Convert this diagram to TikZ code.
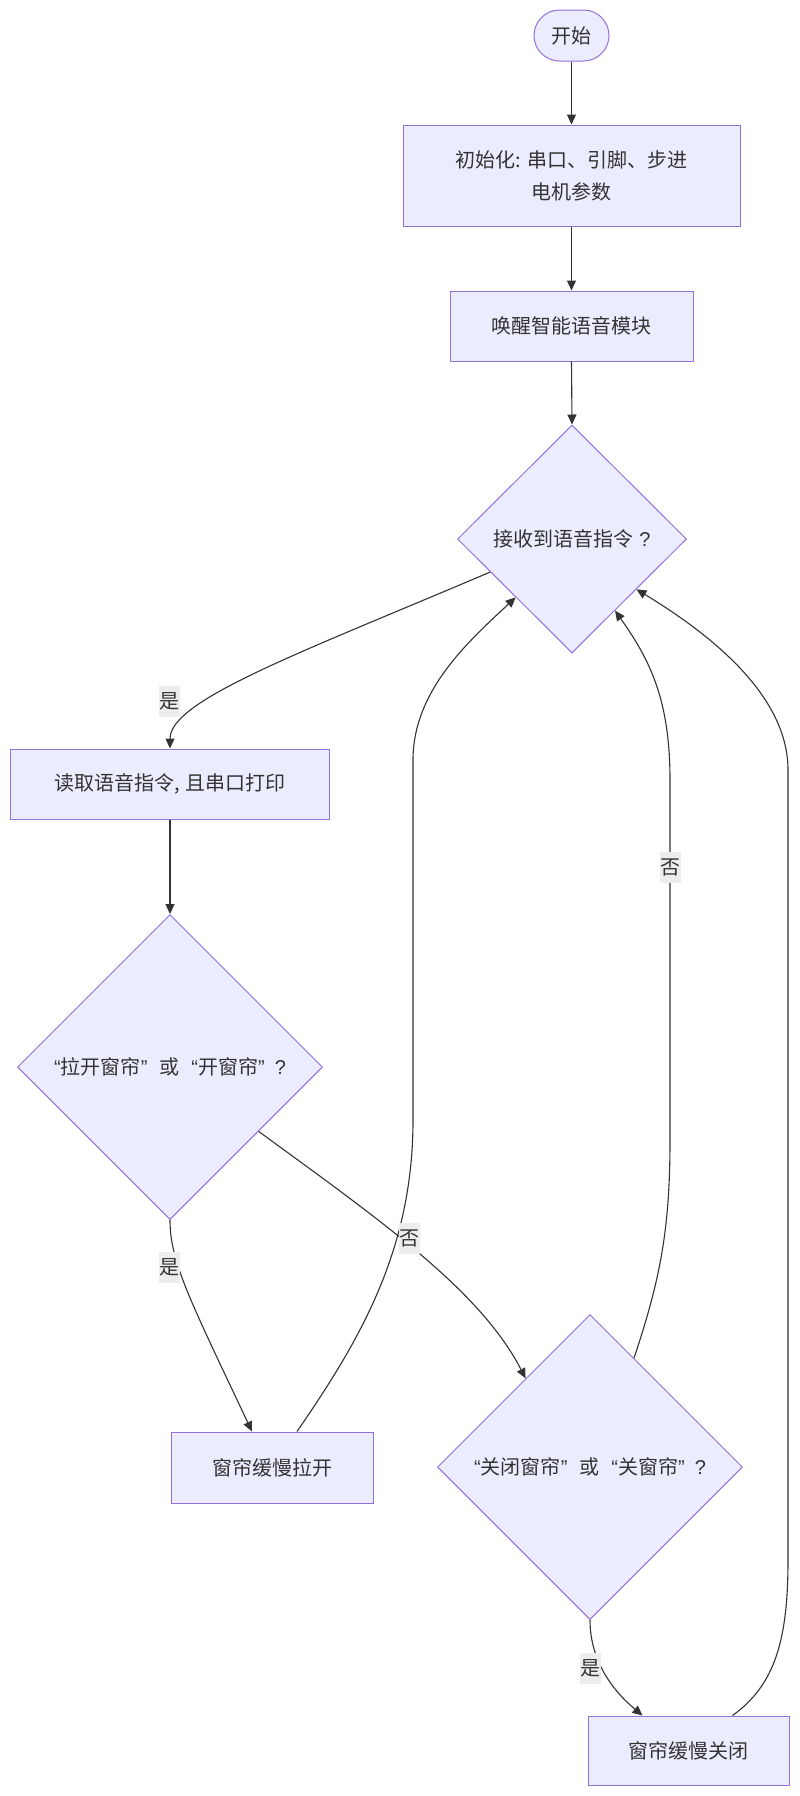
\documentclass[tikz,border=0pt]{standalone}
\usepackage{fontspec}
\setmainfont{Noto Sans CJK SC}
\newfontfamily\qf{Liberation Sans}
\usetikzlibrary{shapes.geometric,arrows.meta,calc}
\definecolor{nodefill}{HTML}{ECECFF}
\definecolor{nodedraw}{HTML}{9370DB}
\definecolor{edgecol}{HTML}{333333}
\definecolor{lblfill}{HTML}{EDEDED}
\begin{document}
\begin{tikzpicture}[x=1pt,y=-1pt,
  every node/.style={font=\fontsize{20}{32}\selectfont, text=edgecol},
  box/.style={draw=nodedraw, fill=nodefill, line width=1pt, rectangle, inner sep=0pt, align=center},
  dec/.style={draw=nodedraw, fill=nodefill, line width=1pt, diamond, inner sep=0pt, aspect=1},
  conn/.style={draw=edgecol, line width=1.1pt, -{Triangle[length=10pt,width=9pt]}},
  lbl/.style={fill=lblfill, inner xsep=0.5pt, inner ysep=0pt, minimum height=31pt, text=edgecol}]
\useasboundingbox (0,0) rectangle (800,1796);
\fill[white] (0,0) rectangle (800,1796);
% nodes
\node[box, rounded corners=25.5pt, minimum width=75pt, minimum height=51pt] (start) at (571.5,35.5) {开始};
\node[box, minimum width=337pt, minimum height=101pt] (init) at (571.5,175.5) {初始化: 串口、引脚、步进\\电机参数};
\node[box, minimum width=243pt, minimum height=70pt] (wake) at (571.5,326) {唤醒智能语音模块};
\node[dec, minimum width=229pt, minimum height=228pt] (d1) at (572,539) {接收到语音指令\hspace{6pt}{\qf ?}};
\node[box, minimum width=319pt, minimum height=70pt] (read) at (170,784) {读取语音指令, 且串口打印};
\node[dec, minimum width=305pt, minimum height=305pt] (d2) at (170,1067) {{\qf “}拉开窗帘{\qf ”}\hspace{12pt}或\hspace{12pt}{\qf “}开窗帘{\qf ”}\hspace{10pt}{\qf ?}};
\node[box, minimum width=202pt, minimum height=71pt] (open) at (272,1467.5) {窗帘缓慢拉开};
\node[dec, minimum width=305pt, minimum height=305pt] (d3) at (590,1467) {{\qf “}关闭窗帘{\qf ”}\hspace{12pt}或\hspace{12pt}{\qf “}关窗帘{\qf ”}\hspace{10pt}{\qf ?}};
\node[box, minimum width=201pt, minimum height=69pt] (close) at (688.5,1750.5) {窗帘缓慢关闭};
% connectors
\draw[conn] (start.south) -- (init.north);
\draw[conn] (init.south) -- (wake.north);
\draw[conn] (wake.south) -- (d1.north);
\draw[conn] (d1.202.5) .. controls (300,653) and (170,700) .. (read.north);
\draw[conn] (read.south) -- (d2.north);
\draw[conn] (d2.south) .. controls (170,1262) and (190,1300) .. ($(open.north)+(-20,0)$);
\draw[conn] (d2.324.3) .. controls (380,1220) and (480,1290) .. (d3.126.7);
\draw[conn] ($(open.north)+(25,0)$) .. controls (360,1340) and (413,1250) .. (413,1120) -- (413,760) .. controls (413,690) and (470,640) .. (d1.226);
\draw[conn] (d3.68) .. controls (660,1280) and (670,1230) .. (670,1140) -- (670,780) .. controls (670,700) and (650,660) .. (d1.301.4);
\draw[conn] ($(close.north)+(44,0)$) .. controls (775,1685) and (788,1640) .. (788,1560) -- (788,770) .. controls (788,700) and (720,640) .. (d1.322.3);
\draw[conn] (d3.south) .. controls (590,1660) and (612,1690) .. ($(close.north)+(-46,0)$);
% edge labels
\node[lbl] (l1) at (169,701) {是};
\node[lbl] (l2) at (169,1267) {是};
\node[lbl] (l3) at (409,1238) {否};
\node[lbl] (l4) at (670,867) {否};
\node[lbl] (l5) at (590,1668) {是};
\end{tikzpicture}
\end{document}
